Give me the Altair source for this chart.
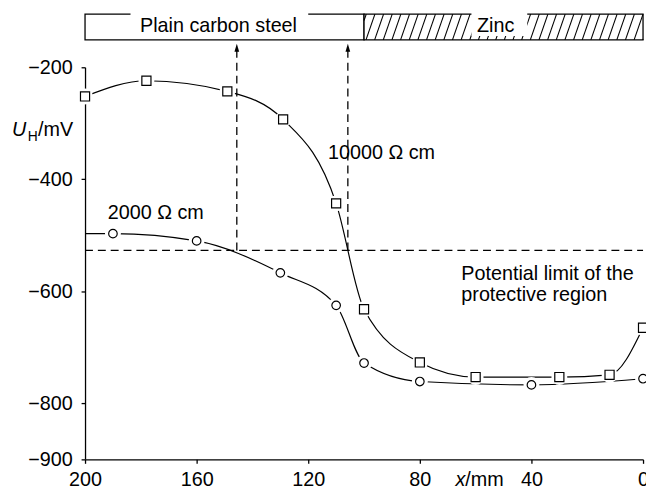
import altair as alt
import pandas as pd
import numpy as np

# ---------------- data ----------------
x_2000 = [190, 160, 130, 110, 100, 80, 40, 0]
u_2000 = [-497, -510, -567, -625, -728, -761, -767, -756]
x_2000_start = 200          # curve continues to the axis (no marker)
u_2000_start = -497

x_10000 = [200, 178, 149, 129, 110, 100, 80, 60, 30, 12, 0]
u_10000 = [-252, -224, -243, -293, -443, -632, -727, -753, -753, -749, -665]

limit_u = -527              # potential limit of the protective region
cross_x = [145.6, 105.8]    # where the curves cross the limit

x_ticks = [200, 160, 120, 80, 40, 0]
y_ticks = [-200, -400, -600, -800, -900]

steel_range = [200, 100]
zinc_range = [100, 0]

# ---------------- layout ----------------
W, H = 565, 397
FONT = "Liberation Sans"
FS = 20
BAR_TOP, BAR_BOT = -105, -151   # bar drawn above the plot, in mV units (extrapolated)
ARROW_U = -165

xs = alt.Scale(domain=[200, 0], nice=False, zero=False)
ys = alt.Scale(domain=[-900, -200], nice=False, zero=False)

xaxis = alt.Axis(values=x_ticks, title=None, grid=False, tickSize=4, labelPadding=6,
                 labelFont=FONT, labelFontSize=FS, labelColor="black", domainColor="black",
                 tickColor="black", domainWidth=1.3, tickWidth=1.3, labelFlush=False,
                 labelOverlap=False)
yaxis = alt.Axis(values=y_ticks, title=None, grid=False, tickSize=4, labelPadding=9,
                 labelFont=FONT, labelFontSize=FS, labelColor="black", domainColor="black",
                 tickColor="black", domainWidth=1.3, tickWidth=1.3, labelFlush=False,
                 labelOverlap=False)


def X(f):
    return alt.X(f, scale=xs, axis=xaxis)


def Y(f):
    return alt.Y(f, scale=ys, axis=yaxis)


one = pd.DataFrame({"a": [0]})

# curves
line_2000 = pd.DataFrame({"x": [x_2000_start] + x_2000, "u": [u_2000_start] + u_2000})
line_10000 = pd.DataFrame({"x": x_10000, "u": u_10000})
pts_2000 = pd.DataFrame({"x": x_2000, "u": u_2000})
pts_10000 = pd.DataFrame({"x": x_10000, "u": u_10000})


def curve(df):
    return alt.Chart(df).mark_line(color="black", strokeWidth=1.2, interpolate="monotone").encode(
        x=X("x:Q"), y=Y("u:Q"), order=alt.Order("x:Q", sort="descending"))


def halo(df):
    return alt.Chart(df).mark_point(shape="circle", filled=True, color="white", size=260, opacity=1).encode(
        x=X("x:Q"), y=Y("u:Q"))


def markers(df, shape, size):
    return alt.Chart(df).mark_point(shape=shape, filled=True, fill="white", stroke="black",
                                    strokeWidth=1.2, size=size, opacity=1).encode(
        x=X("x:Q"), y=Y("u:Q"))


# ---------------- top bar ----------------
bar_df = pd.DataFrame({"x0": [steel_range[0], zinc_range[0]], "x1": [steel_range[1], zinc_range[1]],
                       "y0": [BAR_BOT, BAR_BOT], "y1": [BAR_TOP, BAR_TOP]})
bars = alt.Chart(bar_df).mark_rect(fill="white", stroke="black", strokeWidth=1.3).encode(
    x=X("x0:Q"), x2="x1:Q", y=Y("y0:Q"), y2="y1:Q")

# hatch lines (decoration), clipped to the zinc part
dx, step = 3.2, 3.1
rows = []
b = 102.4
while b > 0:
    x0, y0 = b, BAR_BOT
    x1, y1 = b - dx, BAR_TOP
    if x0 > 100:
        f = (x0 - 100) / dx
        x0, y0 = 100, BAR_BOT + f * (BAR_TOP - BAR_BOT)
    if x1 < 0:
        g = (0 - x1) / dx
        x1, y1 = 0, BAR_TOP - g * (BAR_TOP - BAR_BOT)
    rows.append({"hx0": x0, "hy0": y0, "hx1": x1, "hy1": y1})
    b -= step
hatch = alt.Chart(pd.DataFrame(rows)).mark_rule(color="black", strokeWidth=1.1).encode(
    x=X("hx0:Q"), x2="hx1:Q", y=Y("hy0:Q"), y2="hy1:Q")

gap_df = pd.DataFrame({"x0": [183.7, 61.5], "x1": [120.0, 41.5], "y0": [-112, -144], "y1": [-98, -98]})
gaps = alt.Chart(gap_df).mark_rect(fill="white", stroke=None).encode(
    x=X("x0:Q"), x2="x1:Q", y=Y("y0:Q"), y2="y1:Q")

bar_text = alt.Chart(pd.DataFrame({"x": [180.3, 59.5], "u": [-136.5, -136.5],
                                   "t": ["Plain carbon steel", "Zinc"]})).mark_text(
    font=FONT, fontSize=FS, align="left", baseline="alphabetic", color="black").encode(
    x=X("x:Q"), y=Y("u:Q"), text="t:N")

# ---------------- dashed lines & arrows ----------------
hline = alt.Chart(pd.DataFrame({"x0": [200], "x1": [0], "u": [limit_u]})).mark_rule(
    color="black", strokeWidth=1.3, strokeDash=[8, 5]).encode(
    x=X("x0:Q"), x2="x1:Q", y=Y("u:Q"))
cross_df = pd.DataFrame({"x": cross_x, "u0": [limit_u] * len(cross_x), "u1": [ARROW_U] * len(cross_x)})
vlines = alt.Chart(cross_df).mark_rule(color="black", strokeWidth=1.3, strokeDash=[8, 5]).encode(
    x=X("x:Q"), y=Y("u0:Q"), y2="u1:Q")
arrows = alt.Chart(cross_df).mark_point(shape="M0,-1L0.6,1L-0.6,1Z", filled=True, color="black",
                                        size=64, opacity=1).encode(
    x=X("x:Q"), y=Y("u1:Q"))


# ---------------- annotations ----------------
def label(text, px, py, size=FS, style="normal"):
    return alt.Chart(one).mark_text(text=text, font=FONT, fontSize=size, fontStyle=style,
                                    align="left", baseline="alphabetic", color="black").encode(
        x=alt.value(px), y=alt.value(py))


texts = [
    label("10000 Ω cm", 246, 93),
    label("2000 Ω cm", 23, 154),
    label("Potential limit of the", 381, 215.5),
    label("protective region", 381, 236.5),
    label("x", 375, 423.5, style="italic"),
    label("/mm", 385, 423.5),
    label("U", -74, 70, style="italic"),
    label("H", -58, 75, size=14),
    label("/mV", -47.5, 70),
]

chart = alt.layer(
    curve(line_10000),
    curve(line_2000),
    bars, hatch, gaps, bar_text,
    halo(pts_2000), halo(pts_10000),
    markers(pts_2000, "circle", 75),
    markers(pts_10000, "square", 85),
    hline, vlines, arrows,
    *texts,
).properties(
    width=W, height=H,
    padding={"left": 78, "top": 57, "right": 3, "bottom": 30},
    autosize=alt.AutoSizeParams(type="none"),
).configure(background="white").configure_view(stroke=None)

chart.save("out.html", embed_options={"renderer": "svg", "actions": False})
